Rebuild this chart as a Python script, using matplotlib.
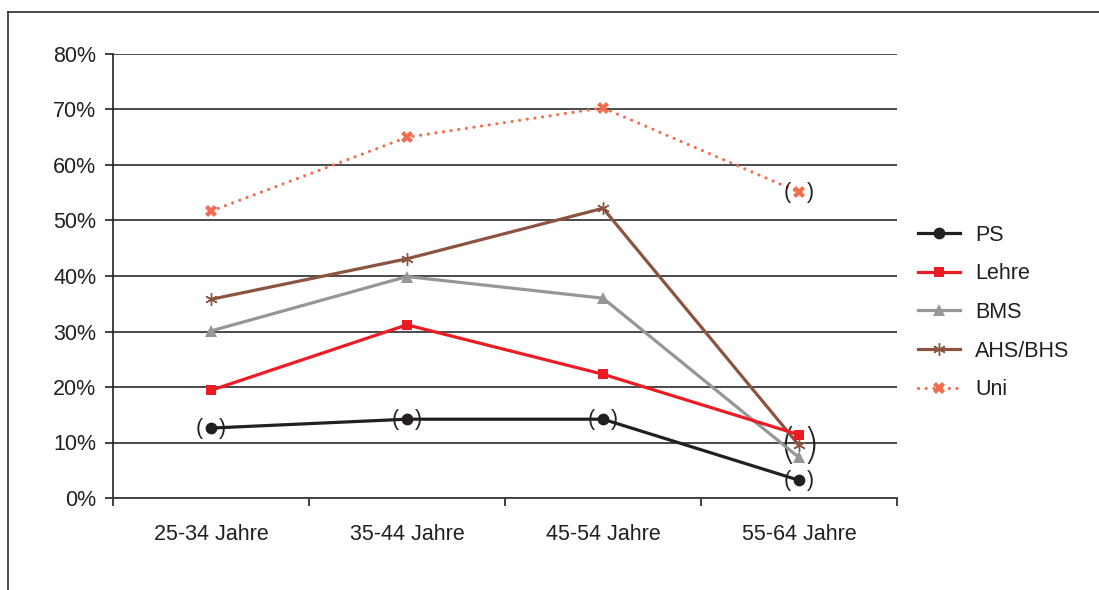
import matplotlib
matplotlib.use("Agg")
import matplotlib.pyplot as plt
from matplotlib.lines import Line2D
import numpy as np

plt.rcParams['font.family'] = ['Liberation Sans', 'DejaVu Sans']

categories = ["25-34 Jahre", "35-44 Jahre", "45-54 Jahre", "55-64 Jahre"]
ps = [12.6, 14.2, 14.2, 3.2]
lehre = [19.4, 31.2, 22.3, 11.4]
bms = [30.1, 39.9, 36.0, 7.3]
ahs_bhs = [35.8, 43.1, 52.2, 9.5]
uni = [51.7, 65.0, 70.3, 55.1]
y_ticks = [0, 10, 20, 30, 40, 50, 60, 70, 80]

FS = 15.5
fig = plt.figure(figsize=(10.99, 5.90), dpi=100)
ax = fig.add_axes([113/1099, 1-498/590, (897-113)/1099, (498-54)/590])

x = np.arange(len(categories))
lw = 2.3
ax.plot(x, uni, color='#f26d50', lw=lw, linestyle=(0, (0.01, 2.4)), dash_capstyle='round',
        marker='X', markersize=9, markeredgewidth=0, zorder=3, label='Uni')
ax.plot(x, ahs_bhs, color='#8c5440', lw=lw, marker=(6, 2, 0), markersize=9,
        markeredgewidth=1.0, zorder=4, label='AHS/BHS')
ax.plot(x, bms, color='#949699', lw=lw, marker='^', markersize=9, markeredgewidth=0,
        zorder=4, label='BMS')
ax.plot(x, lehre, color='#ec1c24', lw=lw, marker='s', markersize=7.5, markeredgewidth=0,
        zorder=5, label='Lehre')
ax.plot(x, ps, color='#231f20', lw=lw, marker='o', markersize=8.5, markeredgewidth=0,
        zorder=6, label='PS')

# parentheses marking uncertain values
pc = '#231f20'
def parens(xi, yi, size, dx, **kw):
    ax.annotate('(', (xi, yi), xytext=(-dx, 0), textcoords='offset points',
                ha='center', va='center', fontsize=size, color=pc, **kw)
    ax.annotate(')', (xi, yi), xytext=(dx, 0), textcoords='offset points',
                ha='center', va='center', fontsize=size, color=pc, **kw)

for xi, yi in zip(x, ps):
    parens(xi, yi, FS, 8.5)
parens(3, uni[3], FS, 8.5)
mid = (lehre[3] + bms[3]) / 2
parens(3, mid, 31, 8.5, family=['DejaVu Sans'], fontweight=200)

ax.set_xlim(-0.5, 3.5)
ax.set_ylim(0, 80)
ax.set_yticks(y_ticks)
ax.set_yticklabels([f"{v}%" for v in y_ticks])
ax.set_xticks(x)
ax.set_xticklabels(categories)
ax.set_xticks(np.arange(-0.5, 4.0, 1.0), minor=True)
ax.tick_params(axis='x', which='major', length=0, pad=19, labelsize=FS, colors='#231f20')
ax.tick_params(axis='x', which='minor', length=6, width=1.2, direction='out', color='#231f20')
ax.tick_params(axis='y', length=6, width=1.2, pad=6, labelsize=FS, colors='#231f20')

ax.grid(axis='y', color='#3c3c3c', lw=1.3)
ax.set_axisbelow(True)
for s in ['top', 'right']:
    ax.spines[s].set_visible(False)
ax.spines['left'].set_color('#231f20')
ax.spines['left'].set_linewidth(1.2)
ax.spines['bottom'].set_color('#3c3c3c')
ax.spines['bottom'].set_linewidth(1.3)

handles, labels = ax.get_legend_handles_labels()
order = ['PS', 'Lehre', 'BMS', 'AHS/BHS', 'Uni']
hmap = dict(zip(labels, handles))
leg = fig.legend([hmap[k] for k in order], order, loc='center left',
                 bbox_to_anchor=(918/1099, 1-312.5/590), frameon=False,
                 fontsize=FS, handlelength=1.95, handletextpad=0.7,
                 labelspacing=0.82, borderpad=0, borderaxespad=0)
for t in leg.get_texts():
    t.set_color('#231f20')

# outer frame
fig.add_artist(Line2D([8/1099, 8/1099], [0, 1-12/590], transform=fig.transFigure,
                      color='#3c3c3c', lw=1.3))
fig.add_artist(Line2D([8/1099, 1], [1-12/590, 1-12/590], transform=fig.transFigure,
                      color='#3c3c3c', lw=1.3))

fig.savefig('out.png', dpi=100)
